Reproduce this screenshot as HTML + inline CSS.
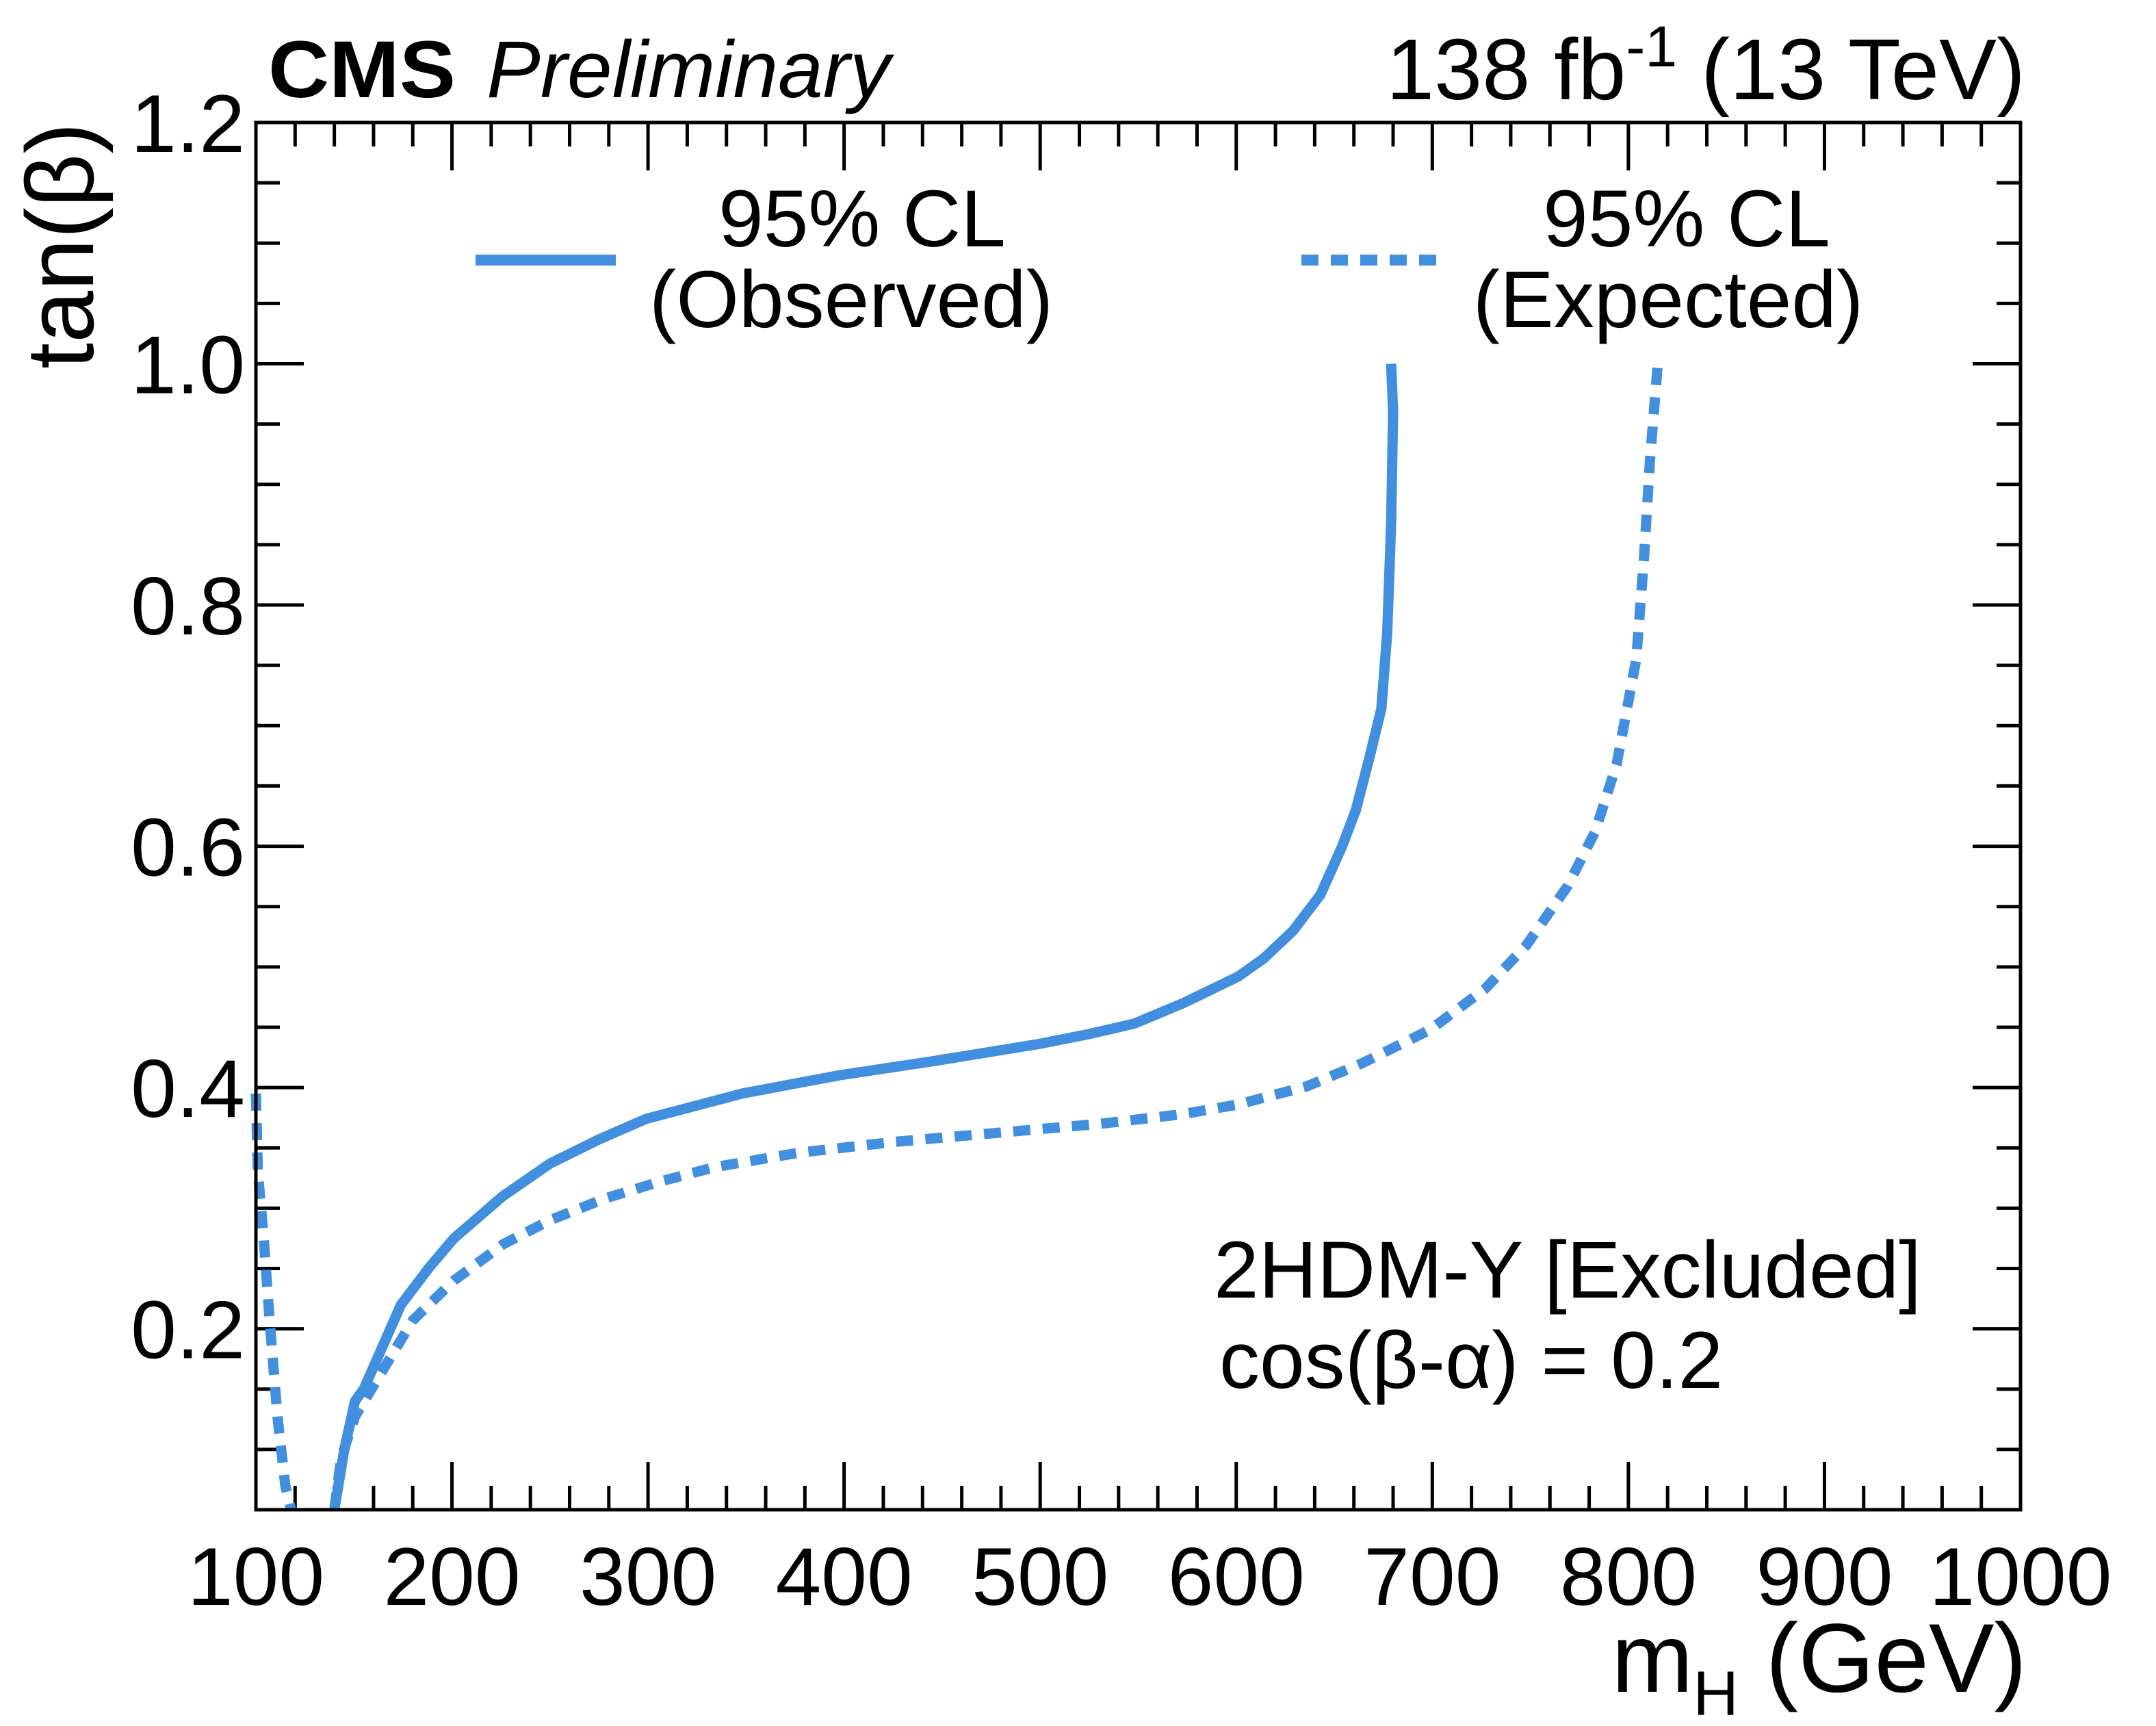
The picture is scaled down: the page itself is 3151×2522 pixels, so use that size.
<!DOCTYPE html>
<html><head><meta charset="utf-8"><style>
html,body{margin:0;padding:0;background:#fff;}
svg{display:block;font-family:"Liberation Sans",Arial,sans-serif;}
</style></head><body>
<svg id="chart" width="3151" height="2522" viewBox="0 0 3151 2522" xmlns="http://www.w3.org/2000/svg">
<rect x="0" y="0" width="3151" height="2522" fill="#fff"/>
<g id="ticks"></g>
<g id="curves"></g>
<rect x="374" y="179" width="2579" height="2027" fill="none" stroke="#000" stroke-width="5"/>
<g id="labels" font-size="120" fill="#000"></g>
<text x="392" y="142" font-size="118" font-weight="bold" textLength="274" lengthAdjust="spacingAndGlyphs">CMS</text>
<text x="711" y="142" font-size="118" font-style="italic" textLength="590" lengthAdjust="spacingAndGlyphs">Preliminary</text>
<text x="2960" y="145" font-size="126" text-anchor="end">138 fb<tspan dy="-48" font-size="84">-1</tspan><tspan dy="48"> (13 TeV)</tspan></text>
<text transform="translate(136,179) rotate(-90)" text-anchor="end" font-size="140" textLength="360" lengthAdjust="spacingAndGlyphs">tan(β)</text>
<text x="2962" y="2472" font-size="143" text-anchor="end">m<tspan dy="34" font-size="92">H</tspan><tspan dy="-34"> (GeV)</tspan></text>
<g>
<line x1="695" y1="380" x2="900" y2="380" stroke="#418fde" stroke-width="16"/>
<text x="1260" y="360" font-size="118" text-anchor="middle">95% CL</text>
<text x="1244" y="478" font-size="118" text-anchor="middle">(Observed)</text>
<line x1="1902" y1="380" x2="2113" y2="380" stroke="#418fde" stroke-width="16" stroke-dasharray="25 18"/>
<text x="2465" y="360" font-size="118" text-anchor="middle">95% CL</text>
<text x="2438" y="478" font-size="118" text-anchor="middle">(Expected)</text>
</g>
<text x="1774" y="1896" font-size="118">2HDM-Y [Excluded]</text>
<text x="1782" y="2028" font-size="118">cos(β-α) = 0.2</text>
</svg>
<script>
const xTickValues = [100,200,300,400,500,600,700,800,900,1000];
const yTickValues = [0.2,0.4,0.6,0.8,1.0,1.2];
const yTickLabels = ["0.2","0.4","0.6","0.8","1.0","1.2"];
const obsMass = [140,145,150.5,155,174,188,201,226,250,275,299,348,397,446,499,524,548,573,601,614,629,643,654,661,668,674,677,679,680,679];
const obsTanb = [0.05,0.099,0.14,0.15,0.22,0.25,0.275,0.31,0.337,0.357,0.374,0.395,0.41,0.422,0.436,0.444,0.453,0.47,0.492,0.507,0.53,0.56,0.6,0.63,0.674,0.714,0.777,0.868,0.96,1.0];
const expLowMass = [100,101,104,107,111,115,118];
const expLowTanb = [0.395,0.33,0.275,0.207,0.127,0.07,0.05];
const expMass = [140,143.5,150.5,163,180,201,226,250,278,306,334,377,426,475,531,573,601,636,664,699,727,748,769,783,794,804,808,811,815];
const expTanb = [0.05,0.093,0.127,0.161,0.207,0.24,0.27,0.29,0.308,0.322,0.334,0.346,0.355,0.362,0.37,0.378,0.386,0.401,0.42,0.448,0.482,0.518,0.567,0.612,0.668,0.755,0.84,0.92,1.0];

const X0=374,X1=2953,Y0=2206,Y1=179;
const xs = m => X0 + (m-100)/(900)*(X1-X0);
const ys = t => Y0 - (t-0.05)/(1.15)*(Y0-Y1);
const NS="http://www.w3.org/2000/svg";
const ticks=document.getElementById('ticks');
const labels=document.getElementById('labels');
function line(g,x1,y1,x2,y2,name){
  const l=document.createElementNS(NS,'line');
  l.setAttribute('x1',x1);l.setAttribute('y1',y1);l.setAttribute('x2',x2);l.setAttribute('y2',y2);
  l.setAttribute('stroke','#000');l.setAttribute('stroke-width','5');
  
  
  g.appendChild(l);
}
for(let m=100;m<=1000;m+=20){
  const major=(m%100===0), L=major?70:35, x=xs(m);
  line(ticks,x,Y0,x,Y0-L,'x-tick');
  line(ticks,x,Y1,x,Y1+L,'x-tick-top');
}
for(let k=1;k<=23;k++){
  const t=0.05*k; if(t<0.05||t>1.2001) continue;
  const major=(k%4===0), L=major?70:35, y=ys(t);
  line(ticks,X0,y,X0+L,y,'y-tick');
  line(ticks,X1,y,X1-L,y,'y-tick-right');
}
xTickValues.forEach(v=>{
  const t=document.createElementNS(NS,'text');
  t.setAttribute('x',xs(v));t.setAttribute('y',2345);t.setAttribute('text-anchor','middle');
  t.textContent=String(v);
  
  
  labels.appendChild(t);
});
yTickValues.forEach((v,i)=>{
  const t=document.createElementNS(NS,'text');
  t.setAttribute('x',358);t.setAttribute('y',ys(v)+43);t.setAttribute('text-anchor','end');
  t.textContent=yTickLabels[i];
  
  
  labels.appendChild(t);
});
const curves=document.getElementById('curves');
function path(ms,ts,dash,name){
  const p=document.createElementNS(NS,'polyline');
  p.setAttribute('points',ms.map((m,i)=>xs(m)+','+ys(ts[i])).join(' '));
  p.setAttribute('fill','none');p.setAttribute('stroke','#418fde');
  p.setAttribute('stroke-width','15');p.setAttribute('stroke-linejoin','round');
  if(dash)p.setAttribute('stroke-dasharray','25 18');
  
  
  curves.appendChild(p);
}
path(obsMass,obsTanb,false,'observed-curve');
path(expLowMass,expLowTanb,true,'expected-curve-low');
path(expMass,expTanb,true,'expected-curve');
</script>
</body></html>
